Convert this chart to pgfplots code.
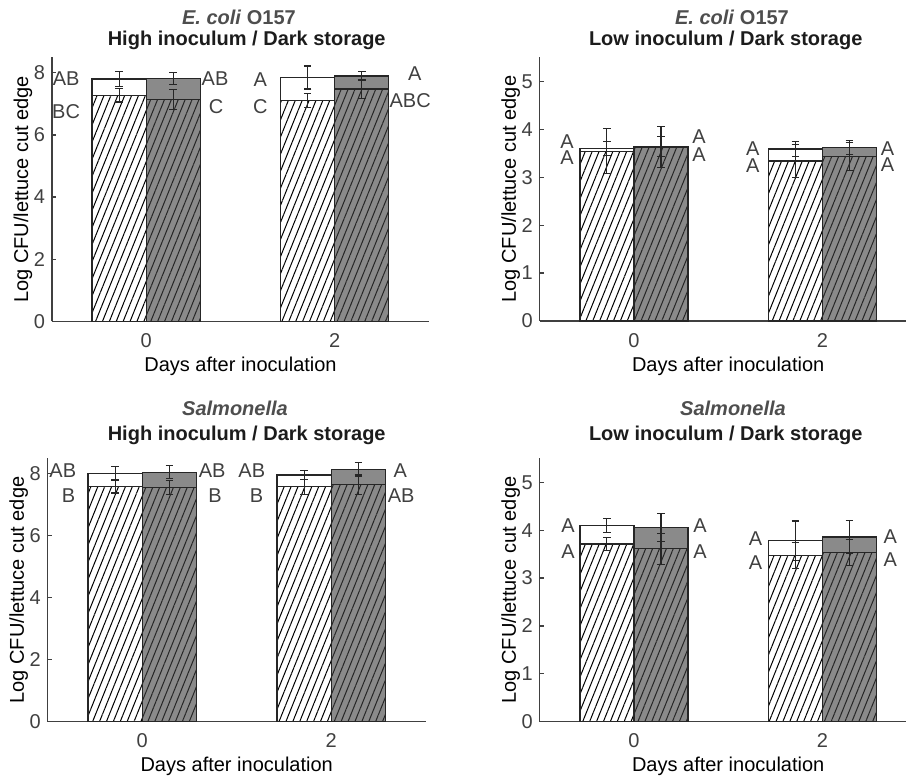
\documentclass[border=0pt]{standalone}
\usepackage{pgfplots}
\pgfplotsset{compat=1.18}
\usetikzlibrary{patterns.meta}
\usepackage{fontspec}
\setmainfont{Liberation Sans}
\definecolor{txt}{RGB}{64,64,64}
\definecolor{ttl}{RGB}{28,28,28}
\definecolor{ttlA}{RGB}{78,78,78}
\definecolor{edge}{RGB}{38,38,38}
\definecolor{barg}{RGB}{138,138,138}

\tikzset{lab/.style={font=\fontsize{10}{12}\selectfont, text=txt, anchor=center, inner sep=0pt}}
\pgfplotsset{
  panel/.style={
    scale only axis, anchor=south west,
    axis lines*=left,
    xmin=-1, xmax=3, ymin=0,
    xtick={0,2},
    tick align=inside, major tick length=2pt,
    axis line style={draw=txt, line width=0.6pt},
    every tick/.style={draw=txt, line width=0.6pt},
    tick label style={font=\fontsize{10}{12}\selectfont, text=txt},
    xticklabel style={yshift=-2.5pt},
    label style={font=\fontsize{10}{12}\selectfont, text=txt},
    xlabel={Days after inoculation},
    ylabel={Log CFU/lettuce cut edge},
    every axis x label/.style={at={(axis description cs:0.5,0)}, anchor=center, yshift=-22.5pt},
    every axis y label/.style={at={(axis description cs:0,0.5)}, xshift=-14.5pt, rotate=90, anchor=center},
    /pgf/number format/assume math mode=true,
    clip=false,
  },
  wtot/.style={ybar, bar width=0.574, bar shift=-0.287, fill=white, draw=edge, line width=0.65pt, forget plot},
  gtot/.style={ybar, bar width=0.574, bar shift=0.287, fill=barg, draw=edge, line width=0.65pt, forget plot},
  what/.style={wtot, postaction={pattern={Lines[angle=68,distance=3.2pt,line width=0.5pt]}, pattern color=black}},
  ghat/.style={gtot, postaction={pattern={Lines[angle=68,distance=3.2pt,line width=0.5pt]}, pattern color=edge}},
  eb/.style={draw=none, mark=none, forget plot,
    error bars/.cd, y dir=both, y explicit,
    error bar style={draw=edge, line width=0.55pt},
    error mark options={rotate=90, draw=edge, line width=0.55pt, mark size=1.9pt}},
}
\newcommand{\ttlfont}{\fontsize{10}{12}\selectfont\bfseries}

\begin{document}
\begin{tikzpicture}
% ---------------- Panel 1 ----------------
\begin{axis}[panel, at={(26pt,-160.65pt)}, width=188.5pt, height=132pt, ymax=8.5, ytick={0,2,4,6,8}]
\addplot[wtot] coordinates {(0,7.80) (2,7.85)};
\addplot[gtot] coordinates {(0,7.82) (2,7.90)};
\addplot[what] coordinates {(0,7.28) (2,7.11)};
\addplot[ghat] coordinates {(0,7.15) (2,7.48)};
\addplot[eb] coordinates {(-0.287,7.80) +- (0,0.23) (1.713,7.85) +- (0,0.37)};
\addplot[eb] coordinates {(0.287,7.82) +- (0,0.19) (2.287,7.90) +- (0,0.13)};
\addplot[eb] coordinates {(-0.287,7.28) +- (0,0.22) (1.713,7.11) +- (0,0.23)};
\addplot[eb] coordinates {(0.287,7.15) +- (0,0.32) (2.287,7.48) +- (0,0.31)};
\node[lab] at (axis cs:-0.85,7.82) {AB};
\node[lab] at (axis cs:-0.85,6.75) {BC};
\node[lab] at (axis cs:0.73,7.82) {AB};
\node[lab] at (axis cs:0.74,6.91) {C};
\node[lab] at (axis cs:1.21,7.77) {A};
\node[lab] at (axis cs:1.21,6.91) {C};
\node[lab] at (axis cs:2.85,7.96) {A};
\node[lab] at (axis cs:2.80,7.12) {ABC};
\end{axis}
% ---------------- Panel 2 ----------------
\begin{axis}[panel, at={(269.85pt,-160.5pt)}, width=188.5pt, height=131.85pt, ymax=5.5, ytick={0,1,2,3,4,5}]
\addplot[wtot] coordinates {(0,3.60) (2,3.59)};
\addplot[gtot] coordinates {(0,3.64) (2,3.62)};
\addplot[what] coordinates {(0,3.54) (2,3.34)};
\addplot[ghat] coordinates {(0,3.63) (2,3.43)};
\addplot[eb] coordinates {(-0.287,3.60) +- (0,0.15) (1.713,3.59) +- (0,0.15)};
\addplot[eb] coordinates {(0.287,3.64) +- (0,0.21) (2.287,3.62) +- (0,0.14)};
\addplot[eb] coordinates {(-0.287,3.54) +- (0,0.47) (1.713,3.34) +- (0,0.35)};
\addplot[eb] coordinates {(0.287,3.63) +- (0,0.43) (2.287,3.43) +- (0,0.29)};
\node[lab] at (axis cs:-0.71,3.745) {A};
\node[lab] at (axis cs:-0.71,3.415) {A};
\node[lab] at (axis cs:0.69,3.85) {A};
\node[lab] at (axis cs:0.69,3.48) {A};
\node[lab] at (axis cs:1.26,3.585) {A};
\node[lab] at (axis cs:1.26,3.25) {A};
\node[lab] at (axis cs:2.69,3.585) {A};
\node[lab] at (axis cs:2.69,3.255) {A};
\end{axis}
% ---------------- Panel 3 ----------------
\begin{axis}[panel, at={(23.85pt,-360.85pt)}, width=189pt, height=131.7pt, ymax=8.5, ytick={0,2,4,6,8}]
\addplot[wtot] coordinates {(0,8.01) (2,7.96)};
\addplot[gtot] coordinates {(0,8.05) (2,8.15)};
\addplot[what] coordinates {(0,7.59) (2,7.58)};
\addplot[ghat] coordinates {(0,7.56) (2,7.66)};
\addplot[eb] coordinates {(-0.287,8.01) +- (0,0.22) (1.713,7.96) +- (0,0.15)};
\addplot[eb] coordinates {(0.287,8.05) +- (0,0.21) (2.287,8.15) +- (0,0.22)};
\addplot[eb] coordinates {(-0.287,7.59) +- (0,0.21) (1.713,7.58) +- (0,0.24)};
\addplot[eb] coordinates {(0.287,7.56) +- (0,0.22) (2.287,7.66) +- (0,0.33)};
\node[lab] at (axis cs:-0.84,8.10) {AB};
\node[lab] at (axis cs:-0.78,7.31) {B};
\node[lab] at (axis cs:0.74,8.10) {AB};
\node[lab] at (axis cs:0.77,7.31) {B};
\node[lab] at (axis cs:1.16,8.10) {AB};
\node[lab] at (axis cs:1.21,7.31) {B};
\node[lab] at (axis cs:2.73,8.10) {A};
\node[lab] at (axis cs:2.74,7.31) {AB};
\end{axis}
% ---------------- Panel 4 ----------------
\begin{axis}[panel, at={(269.85pt,-360.85pt)}, width=188.5pt, height=131.7pt, ymax=5.5, ytick={0,1,2,3,4,5}]
\addplot[wtot] coordinates {(0,4.10) (2,3.78)};
\addplot[gtot] coordinates {(0,4.06) (2,3.86)};
\addplot[what] coordinates {(0,3.71) (2,3.47)};
\addplot[ghat] coordinates {(0,3.61) (2,3.54)};
\addplot[eb] coordinates {(-0.287,4.10) +- (0,0.15) (1.713,3.78) +- (0,0.41)};
\addplot[eb] coordinates {(0.287,4.06) +- (0,0.29) (2.287,3.86) +- (0,0.35)};
\addplot[eb] coordinates {(-0.287,3.71) +- (0,0.14) (1.713,3.47) +- (0,0.27)};
\addplot[eb] coordinates {(0.287,3.61) +- (0,0.32) (2.287,3.54) +- (0,0.27)};
\node[lab] at (axis cs:-0.70,4.09) {A};
\node[lab] at (axis cs:-0.70,3.55) {A};
\node[lab] at (axis cs:0.70,4.09) {A};
\node[lab] at (axis cs:0.70,3.55) {A};
\node[lab] at (axis cs:1.29,3.83) {A};
\node[lab] at (axis cs:1.29,3.32) {A};
\node[lab] at (axis cs:2.72,3.86) {A};
\node[lab] at (axis cs:2.72,3.38) {A};
\end{axis}
% ---------------- Titles ----------------
\node[anchor=base, text=ttlA, font=\ttlfont] at (119.5pt,-12.25pt) {\textit{E. coli} O157};
\node[anchor=base, text=ttl, font=\ttlfont] at (123.35pt,-22.75pt) {High inoculum / Dark storage};
\node[anchor=base, text=ttlA, font=\ttlfont] at (366pt,-12.25pt) {\textit{E. coli} O157};
\node[anchor=base, text=ttl, font=\ttlfont] at (362.85pt,-22.75pt) {Low inoculum / Dark storage};
\node[anchor=base, text=ttlA, font=\ttlfont] at (117.5pt,-207.75pt) {\textit{Salmonella}};
\node[anchor=base, text=ttl, font=\ttlfont] at (123.35pt,-220.25pt) {High inoculum / Dark storage};
\node[anchor=base, text=ttlA, font=\ttlfont] at (366.5pt,-207.75pt) {\textit{Salmonella}};
\node[anchor=base, text=ttl, font=\ttlfont] at (362.85pt,-220.25pt) {Low inoculum / Dark storage};
\pgfresetboundingbox
\path (0pt,0pt) rectangle (453pt,-390pt);
\end{tikzpicture}
\end{document}
